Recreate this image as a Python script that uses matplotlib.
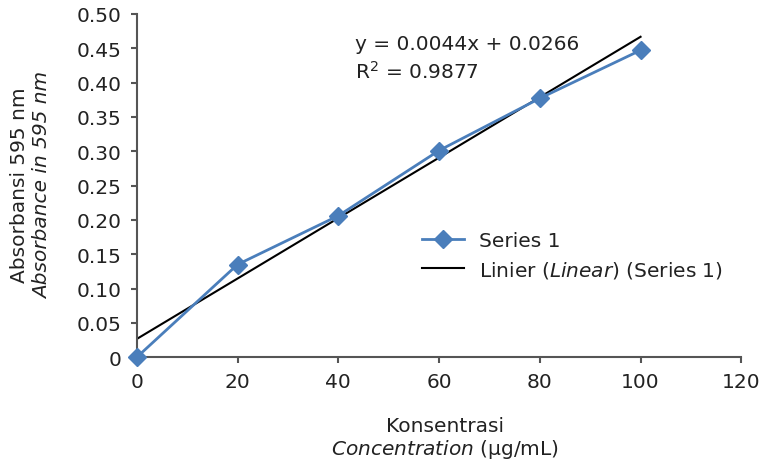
import numpy as np
import matplotlib.pyplot as plt

plt.rcParams['font.family'] = ['DejaVu Sans']

# data
concentration = [0, 20, 40, 60, 80, 100]
absorbance = [0.0, 0.135, 0.206, 0.301, 0.377, 0.447]
slope = 0.0044
intercept = 0.0266
yticks = [0, 0.05, 0.10, 0.15, 0.20, 0.25, 0.30, 0.35, 0.40, 0.45, 0.50]
ytick_labels = ["0", "0.05", "0.10", "0.15", "0.20", "0.25", "0.30",
                "0.35", "0.40", "0.45", "0.50"]
xticks = [0, 20, 40, 60, 80, 100, 120]

blue = "#4a7ebb"
text_c = "#222222"
fs = 14.5

fig = plt.figure(figsize=(7.73, 4.64), dpi=100)
ax = fig.add_axes([0.177, 0.228, 0.782, 0.74])

ax.plot(concentration, absorbance, color=blue, lw=2, marker="D", ms=9.5,
        mec=blue, mfc=blue, label="Series 1", clip_on=False, zorder=3)
xfit = np.array([concentration[0], concentration[-1]])
ax.plot(xfit, slope * xfit + intercept, color="black", lw=1.5,
        label="Linier ($\\it{Linear}$) (Series 1)", zorder=2)

ax.set_xlim(0, 120)
ax.set_ylim(0, 0.5)
ax.set_xticks(xticks)
ax.set_yticks(yticks)
ax.set_yticklabels(ytick_labels)
for s in ["top", "right"]:
    ax.spines[s].set_visible(False)
for s in ["left", "bottom"]:
    ax.spines[s].set_color("#555555")
    ax.spines[s].set_linewidth(1.5)
ax.tick_params(direction="out", length=4, width=1.5, color="#555555",
               labelsize=fs, labelcolor=text_c, pad=7)

ax.text(0.361, 0.913, "y = 0.0044x + 0.0266", transform=ax.transAxes,
        fontsize=fs, color=text_c, va="center")
ax.text(0.361, 0.834, "R$^2$ = 0.9877", transform=ax.transAxes,
        fontsize=fs, color=text_c, va="center")

leg = ax.legend(loc="upper left", bbox_to_anchor=(0.472, 0.368),
                frameon=False, fontsize=fs, handlelength=2.1,
                handletextpad=0.7, labelspacing=0.45, borderaxespad=0,
                borderpad=0, labelcolor=text_c)

fig.text(0.013, 0.6, "Absorbansi 595 nm", rotation=90, ha="left",
         va="center", fontsize=fs, color=text_c)
fig.text(0.043, 0.6, "Absorbance in 595 nm", rotation=90, ha="left",
         va="center", fontsize=fs, color=text_c, style="italic")

fig.text(0.576, 0.069, "Konsentrasi", ha="center", va="baseline",
         fontsize=fs, color=text_c)
fig.text(0.576, 0.019, "$\\it{Concentration}$ (µg/mL)", ha="center",
         va="baseline", fontsize=fs, color=text_c)

fig.savefig("out.png", dpi=100)
